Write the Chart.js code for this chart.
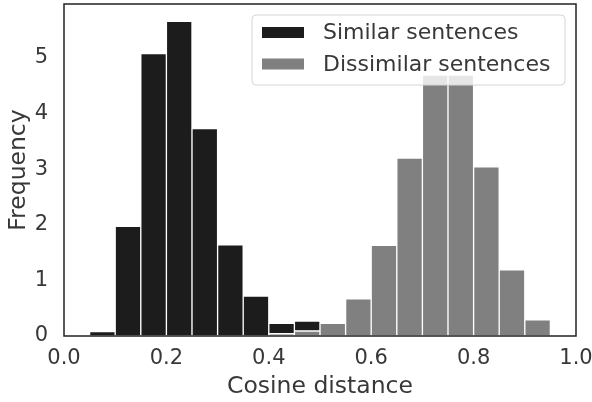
<!DOCTYPE html>
<html>
<head>
<meta charset="utf-8">
<script src="https://cdn.jsdelivr.net/npm/chart.js@4/dist/chart.umd.min.js"></script>
<style>
  html, body { margin: 0; padding: 0; background: #fff; }
  #wrap { width: 592px; height: 402px; }
</style>
</head>
<body>
<div id="wrap"><canvas id="chart"></canvas></div>
<script>
// histogram bins (centres, width 0.05)
const binCenters = [0.025, 0.075, 0.125, 0.175, 0.225, 0.275, 0.325, 0.375, 0.425, 0.475,
                    0.525, 0.575, 0.625, 0.675, 0.725, 0.775, 0.825, 0.875, 0.925, 0.975];
const similar    = [0, 0.08, 1.97, 5.08, 5.66, 3.73, 1.64, 0.72, 0.19, 0.18,
                    0, 0, 0, 0, 0, 0, 0, 0, 0, 0];
const dissimilar = [0, 0, 0, 0, 0, 0, 0, 0, 0.04, 0.09,
                    0.23, 0.67, 1.63, 3.2, 4.69, 4.69, 3.04, 1.19, 0.29, 0];
const seriesNames = ['Similar sentences', 'Dissimilar sentences'];
const xTicks = [0, 0.2, 0.4, 0.6, 0.8, 1.0];
const yTicks = [0, 1, 2, 3, 4, 5];

const FONT = "'DejaVu Sans', sans-serif";
const TEXT = '#383838';

const toPoints = vals => vals.map((v, i) => ({ x: binCenters[i], y: v }));

// frame around the plot area
const framePlugin = {
  id: 'frame',
  afterDraw(chart) {
    const a = chart.chartArea, ctx = chart.ctx;
    ctx.save();
    ctx.strokeStyle = '#222';
    ctx.lineWidth = 1.5;
    ctx.strokeRect(a.left, a.top, a.right - a.left, a.bottom - a.top);
    ctx.restore();
  }
};

// legend box drawn inside the plot, semi transparent like matplotlib
const legendPlugin = {
  id: 'boxLegend',
  afterDatasetsDraw(chart) {
    const a = chart.chartArea, ctx = chart.ctx;
    const w = 313, h = 70;
    const x = a.right - 11 - w, y = a.top + 11;
    ctx.save();
    ctx.beginPath();
    ctx.roundRect(x, y, w, h, 4);
    ctx.fillStyle = 'rgba(255,255,255,0.8)';
    ctx.fill();
    ctx.strokeStyle = '#d6d6d6';
    ctx.lineWidth = 1;
    ctx.stroke();
    ctx.font = '22px ' + FONT;
    ctx.textBaseline = 'middle';
    // legend order: Similar first
    const items = [chart.data.datasets[1], chart.data.datasets[0]];
    items.forEach((ds, i) => {
      const cy = y + 17.5 + i * 31.5;
      ctx.fillStyle = ds.backgroundColor;
      ctx.fillRect(x + 10, cy - 5.5, 42, 11);
      ctx.fillStyle = TEXT;
      ctx.fillText(ds.label, x + 71, cy + 1);
    });
    ctx.restore();
  }
};

new Chart(document.getElementById('chart'), {
  type: 'bar',
  data: {
    datasets: [
      {
        label: seriesNames[1],
        data: toPoints(dissimilar),
        backgroundColor: '#808080',
        borderColor: '#ffffff',
        borderWidth: 1,
        borderSkipped: false,
        barPercentage: 1,
        categoryPercentage: 1
      },
      {
        label: seriesNames[0],
        data: toPoints(similar),
        backgroundColor: '#1c1c1c',
        borderColor: '#ffffff',
        borderWidth: 1,
        borderSkipped: false,
        barPercentage: 1,
        categoryPercentage: 1
      }
    ]
  },
  options: {
    responsive: true,
    maintainAspectRatio: false,
    animation: false,
    layout: { padding: { top: 4, right: 16, left: 0, bottom: 0 } },
    plugins: {
      legend: { display: false },
      tooltip: { enabled: false }
    },
    scales: {
      x: {
        type: 'linear',
        stacked: true,
        min: 0,
        max: 1,
        offset: false,
        grid: { display: false, drawTicks: false },
        border: { display: false },
        afterBuildTicks: s => { s.ticks = xTicks.map(v => ({ value: v })); },
        afterFit: s => { s.height = 66; s.paddingLeft = 0; s.paddingRight = 0; },
        ticks: {
          color: TEXT,
          font: { family: FONT, size: 21 },
          padding: 10,
          maxRotation: 0,
          callback: v => v.toFixed(1)
        },
        title: {
          display: true,
          text: 'Cosine distance',
          color: TEXT,
          font: { family: FONT, size: 23.5 },
          padding: { top: 0, bottom: 1 }
        }
      },
      y: {
        stacked: true,
        min: 0,
        max: 5.97,
        grid: { display: false, drawTicks: false },
        border: { display: false },
        afterBuildTicks: s => { s.ticks = yTicks.map(v => ({ value: v })); },
        afterFit: s => { s.width = 64; s.paddingTop = 0; s.paddingBottom = 0; },
        ticks: {
          color: TEXT,
          font: { family: FONT, size: 21 },
          padding: 16
        },
        title: {
          display: true,
          text: 'Frequency',
          color: TEXT,
          font: { family: FONT, size: 23.5 },
          padding: { top: 5, bottom: 0 }
        }
      }
    }
  },
  plugins: [framePlugin, legendPlugin]
});
</script>
</body>
</html>
